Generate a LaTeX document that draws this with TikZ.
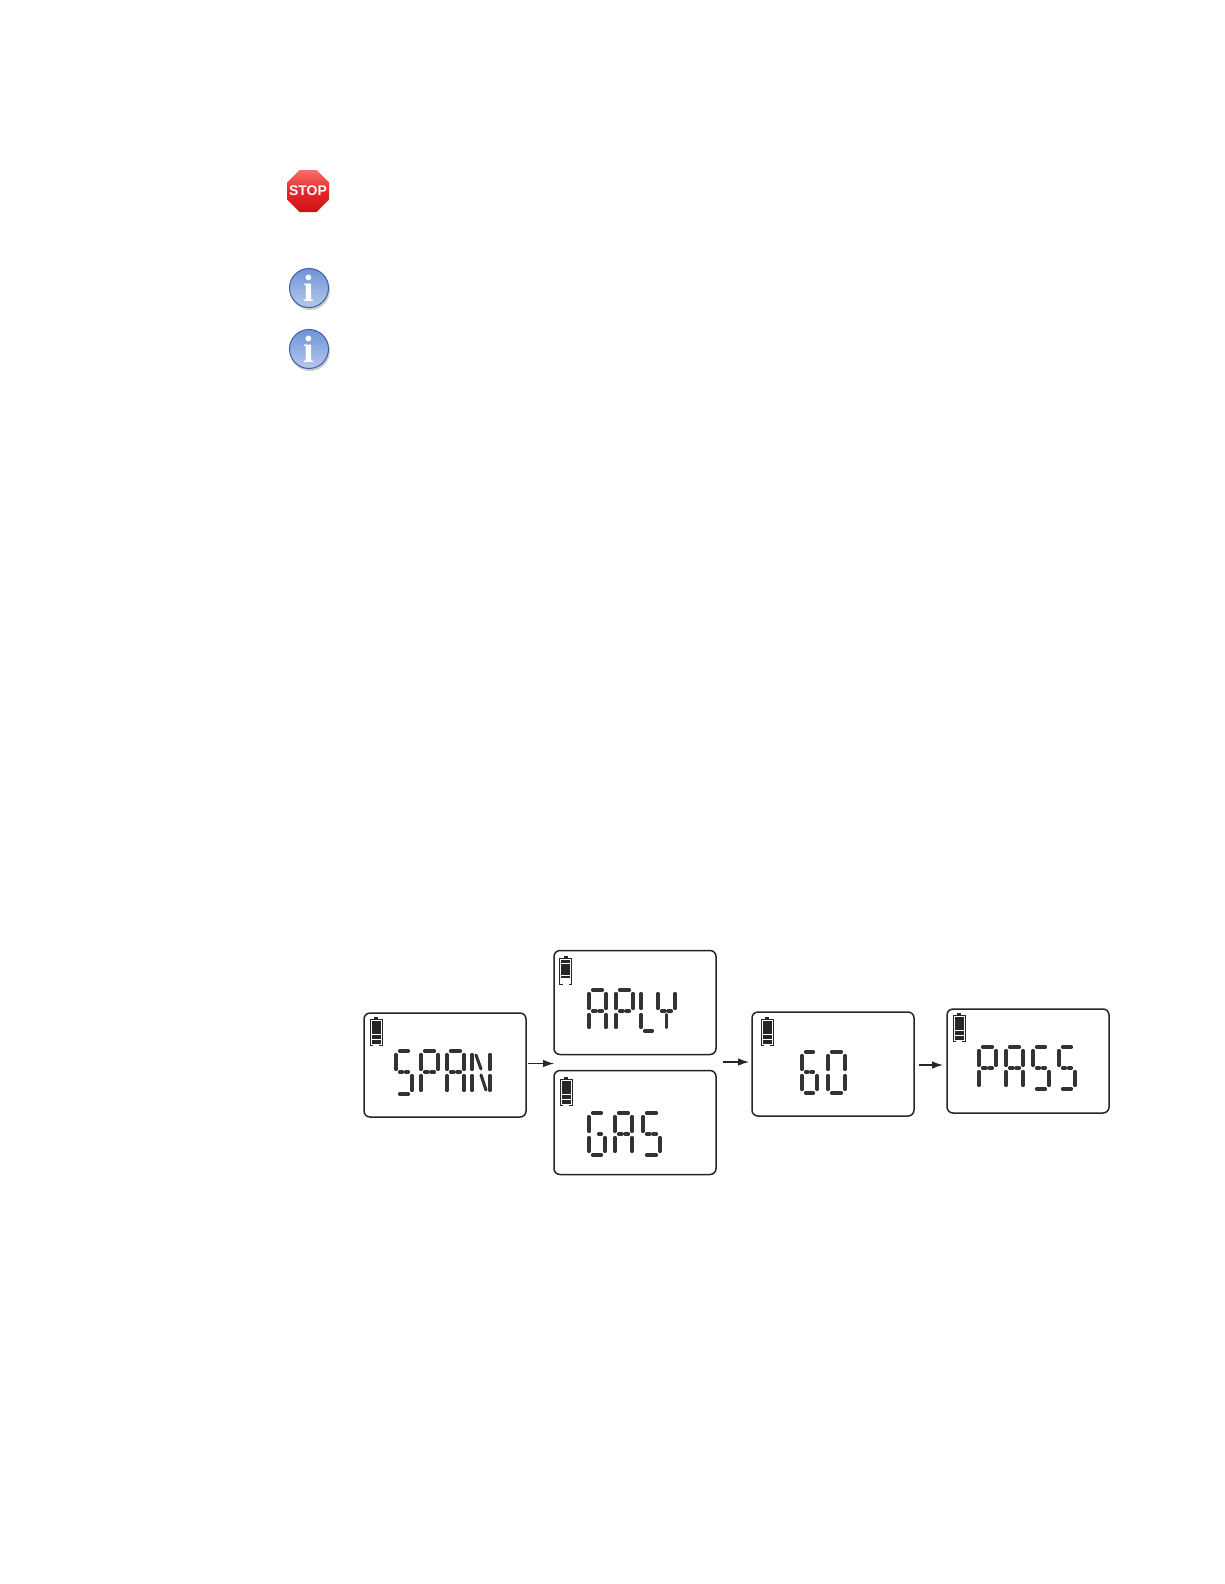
\documentclass[tikz,border=0pt]{standalone}
\usepackage{fontspec}
\setmainfont{Liberation Sans}
\newfontfamily\serifi{Liberation Serif}
\usetikzlibrary{arrows.meta}
\definecolor{stopred}{HTML}{E8262A}
\definecolor{stoplight}{HTML}{F7706C}
\definecolor{stopdark}{HTML}{C91418}
\definecolor{infoedge}{HTML}{3E5FA6}
\definecolor{infolight}{HTML}{B5C9EC}
\definecolor{infomid}{HTML}{6F93D9}
\tikzset{
  lcdbox/.style={draw=black!85,line width=1.5pt,rounded corners=6pt,minimum width=162pt,minimum height=104pt,inner sep=0pt,outer sep=0pt,fill=white},
  lcdseg/.style={draw=black!80,line width=3.1pt,line cap=round},
  lcdtext/.style={text opacity=0,font=\fontsize{30}{30}\selectfont,inner sep=0pt},
  flowarrow/.style={draw=black!85,line width=1.1pt,-{Latex[length=11pt,width=7.5pt]}},
  batline/.style={draw=black!85,line width=1pt},
  stopshape/.style={top color=stoplight,bottom color=stopdark,middle color=stopred},
  stoptext/.style={text=white,inner sep=0pt,font=\bfseries\fontsize{14}{14}\selectfont},
  infoball/.style={circle,minimum size=39pt,inner sep=0pt,draw=infoedge,line width=1pt,top color=infomid,bottom color=infolight,text=white,font=\serifi\bfseries\fontsize{38}{38}\selectfont},
  infoshade/.style={circle,minimum size=40pt,inner sep=0pt,fill=black!20}
}
\newcommand{\sega}{\draw[lcdseg] (\dx+3.5,\dt)--(\dx+\dw-3.5,\dt);}
\newcommand{\segb}{\draw[lcdseg] (\dx+\dw,\dt+3.5)--(\dx+\dw,\dm-2.5);}
\newcommand{\segc}{\draw[lcdseg] (\dx+\dw,\dm+3.5)--(\dx+\dw,\db-3.5);}
\newcommand{\segd}{\draw[lcdseg] (\dx+3.5,\db)--(\dx+\dw-3.5,\db);}
\newcommand{\sege}{\draw[lcdseg] (\dx,\dm+3.5)--(\dx,\db-3.5);}
\newcommand{\segf}{\draw[lcdseg] (\dx,\dt+3.5)--(\dx,\dm-2.5);}
\newcommand{\segg}{\draw[lcdseg] (\dx+3.5,\dm)--(\dx+\dw/2-1.5,\dm) (\dx+\dw/2+1.5,\dm)--(\dx+\dw-3.5,\dm);}
\newcommand{\segh}{\draw[lcdseg] (\dx+\dw/2+1.5,\dm)--(\dx+\dw-3.5,\dm);}
\newcommand{\segs}{\draw[lcdseg] (\dx+\dw/2,\dm+3.5)--(\dx+\dw/2,\db-3.5);}
\newcommand{\segn}{\draw[lcdseg] (\dx+4,\dt+4)--(\dx+\dw/2,\dm-3) (\dx+\dw/2,\dm+3)--(\dx+\dw-4,\db-4);}
% \lcdglyph{x}{width}{top}{mid}{bottom}{segments}
\newcommand{\lcdglyph}[6]{%
  \def\dx{#1}\def\dw{#2}\def\dt{#3}\def\dm{#4}\def\db{#5}%
  \foreach \s in {#6}{\csname seg\s\endcsname}%
}
% \battery{x}{ytop of body}{bars}
\newcommand{\battery}[3]{%
  \def\bx{#1}\def\by{#2}%
  \fill[black!85] (\bx+4,\by-2.5) rectangle (\bx+8,\by);
  \draw[batline] (\bx+3,\by+26)--(\bx,\by+26)--(\bx,\by)--(\bx+12,\by)--(\bx+12,\by+26)--(\bx+9,\by+26);
  \foreach \a/\b in #3 {\fill[black!85] (\bx+1.5,\by+\a) rectangle (\bx+10.5,\by+\b);}%
}
\def\fivebars{1.5/5.6,6.4/10.5,11.3/15.4,16.2/20.3,21.1/24.5}
\begin{document}
\begin{tikzpicture}[x=1pt,y=-1pt]
\useasboundingbox (0,0) rectangle (1224,1584);
\fill[white] (0,0) rectangle (1224,1584);
% icons
\shade[stopshape] (299.5,170)--(316.5,170)--(329,182.5)--(329,199.5)--(316.5,212)--(299.5,212)--(287,199.5)--(287,182.5)--cycle;
\node[stoptext] (stop) at (308,190.5) {STOP};
\node[infoshade] (shadeA) at (310,290) {};
\node[infoball] (infoA) at (309,288) {i};
\node[infoshade] (shadeB) at (310,351) {};
\node[infoball] (infoB) at (309,349) {i};
% boxes
\node[lcdbox] (span) at (445,1065) {};
\node[lcdbox] (aply) at (635,1002.5) {};
\node[lcdbox] (gas) at (635,1122.5) {};
\node[lcdbox] (go) at (833,1064) {};
\node[lcdbox] (pass) at (1028,1061) {};
% real text of the displays, under the drawn segments
\node[lcdtext] (spantext) at (445,1072) {SPAN};
\node[lcdtext] (aplytext) at (630,1011) {APLY};
\node[lcdtext] (gastext) at (624,1134) {GAS};
\node[lcdtext] (gotext) at (822,1072) {GO};
\node[lcdtext] (passtext) at (1028,1068) {PASS};
% batteries
\battery{370}{1019}{\fivebars}
\battery{559.5}{958}{{2/4.5,6/17,18/20}}
\battery{560}{1079}{\fivebars}
\battery{761}{1019}{\fivebars}
\battery{953}{1015}{\fivebars}
% SPAN
\lcdglyph{396}{16}{1051}{1072}{1094}{a,f,g,c,d}
\lcdglyph{421}{17}{1051}{1072}{1094}{a,b,f,e,g}
\lcdglyph{447}{17}{1051}{1072}{1094}{a,b,c,e,f,g}
\lcdglyph{472}{18}{1051}{1072}{1094}{f,e,b,c,n}
% APLY
\lcdglyph{589}{17}{990}{1011}{1031}{a,b,c,e,f,g}
\lcdglyph{616}{17}{990}{1011}{1031}{a,b,f,e,g}
\lcdglyph{641}{15}{990}{1011}{1031}{f,e,d}
\lcdglyph{658}{17}{990}{1011}{1031}{f,b,g,s}
% GAS
\lcdglyph{589}{16}{1113}{1134}{1155}{a,f,e,d,c,h}
\lcdglyph{615}{17}{1113}{1134}{1155}{a,b,c,e,f,g}
\lcdglyph{643}{17}{1113}{1134}{1155}{a,f,g,c,d}
% GO
\lcdglyph{802}{15}{1052}{1072}{1093}{a,f,e,d,c,g}
\lcdglyph{828}{17}{1052}{1072}{1093}{a,b,c,d,e,f}
% PASS
\lcdglyph{979}{17}{1047}{1068}{1089}{a,b,f,e,g}
\lcdglyph{1006}{17}{1047}{1068}{1089}{a,b,c,e,f,g}
\lcdglyph{1033}{16}{1047}{1068}{1089}{a,f,g,c,d}
\lcdglyph{1059}{16}{1047}{1068}{1089}{a,f,g,c,d}
% connectors
\coordinate (splitin) at (554,1063.5);
\coordinate (splitout) at (723,1062);
\draw[flowarrow] ([shift={(2,-1.5)}]span.east) -- (splitin);
\draw[flowarrow] (splitout) -- ([shift={(-3,-2)}]go.west);
\draw[flowarrow] ([shift={(5,1)}]go.east) -- ([shift={(-4,4)}]pass.west);
\end{tikzpicture}
\end{document}
